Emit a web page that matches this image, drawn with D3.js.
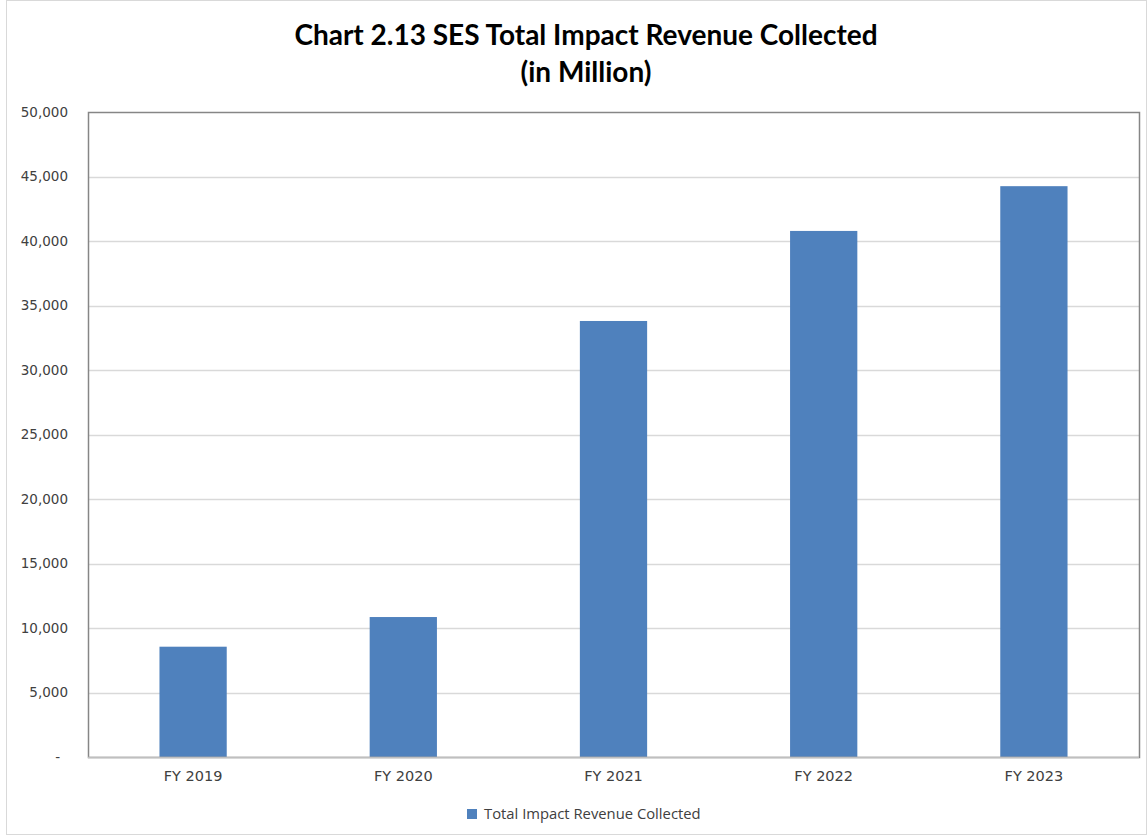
<!DOCTYPE html>
<html><head><meta charset="utf-8">
<script src="https://cdn.jsdelivr.net/npm/d3@7"></script>
<style>body{margin:0;background:#fff}svg{display:block}</style>
</head><body>
<svg id="c" width="1148" height="836"></svg>
<script>
const categories = ["FY 2019","FY 2020","FY 2021","FY 2022","FY 2023"];
const values = [8550, 10850, 33800, 40780, 44250];
const yTicks = [0,5000,10000,15000,20000,25000,30000,35000,40000,45000,50000];
const seriesName = "Total Impact Revenue Collected";
const titleLines = ["Chart 2.13 SES Total Impact Revenue Collected","(in Million)"];

const svg = d3.select("#c");
const m={l:88,r:1139,t:112,b:757};
svg.append("rect").attr("x",6.5).attr("y",0.5).attr("width",1140).attr("height",834).attr("fill","#fff").attr("stroke","#d9d9d9");

const x = d3.scaleBand().domain(categories).range([m.l,m.r]).paddingInner(0.68).paddingOuter(0.34);
const y = d3.scaleLinear().domain([0,50000]).range([m.b,m.t]);

svg.append("g").selectAll("line").data(yTicks.slice(1,-1)).join("line")
 .attr("x1",m.l).attr("x2",m.r).attr("y1",d=>Math.round(y(d))+0.5).attr("y2",d=>Math.round(y(d))+0.5)
 .attr("stroke","#d9d9d9").attr("stroke-width",1.5);

svg.append("g").selectAll("rect").data(values).join("rect")
 .attr("x",(d,i)=>x(categories[i])).attr("width",x.bandwidth())
 .attr("y",d=>y(d)).attr("height",d=>y(0)-y(d)).attr("fill","#4f81bd");

svg.append("rect").attr("x",m.l+0.5).attr("y",m.t+0.5).attr("width",m.r-m.l).attr("height",m.b-m.t)
 .attr("fill","none").attr("stroke","#868686").attr("stroke-width",1.5);
svg.append("line").attr("x1",m.l).attr("x2",m.r).attr("y1",m.b+0.5).attr("y2",m.b+0.5).attr("stroke","#bfbfbf").attr("stroke-width",1.5);

const ya = d3.axisLeft(y).tickValues(yTicks).tickSize(0).tickPadding(20)
 .tickFormat(d=>d===0?"-":d3.format(",")(d));
const yg = svg.append("g").attr("transform",`translate(${m.l},0)`).call(ya);
yg.select(".domain").remove();
yg.selectAll("text").attr("font-family","DejaVu Sans, sans-serif").attr("font-size",13.5).attr("fill","#404040");
yg.selectAll(".tick").filter(d=>d===0).select("text").attr("dx",-8);

const xa = d3.axisBottom(x).tickSize(0).tickPadding(14);
const xg = svg.append("g").attr("transform",`translate(0,${m.b})`).call(xa);
xg.select(".domain").remove();
xg.selectAll("text").attr("font-family","DejaVu Sans, sans-serif").attr("font-size",14.5).attr("fill","#404040");

svg.append("g").selectAll("text").data(titleLines).join("text")
 .attr("x",586).attr("y",(d,i)=>45+i*37).attr("text-anchor","middle")
 .attr("font-family","Lato, 'Open Sans', sans-serif").attr("font-weight","bold").attr("font-size",28).attr("fill","#000")
 .text(d=>d);

const lg = svg.append("g").attr("transform","translate(467,809)");
lg.append("rect").attr("width",10).attr("height",10).attr("fill","#4f81bd");
lg.append("text").attr("x",17).attr("y",10).attr("font-family","'Open Sans', sans-serif").attr("font-size",14.8).attr("fill","#404040").text(seriesName);
</script>
</body></html>
